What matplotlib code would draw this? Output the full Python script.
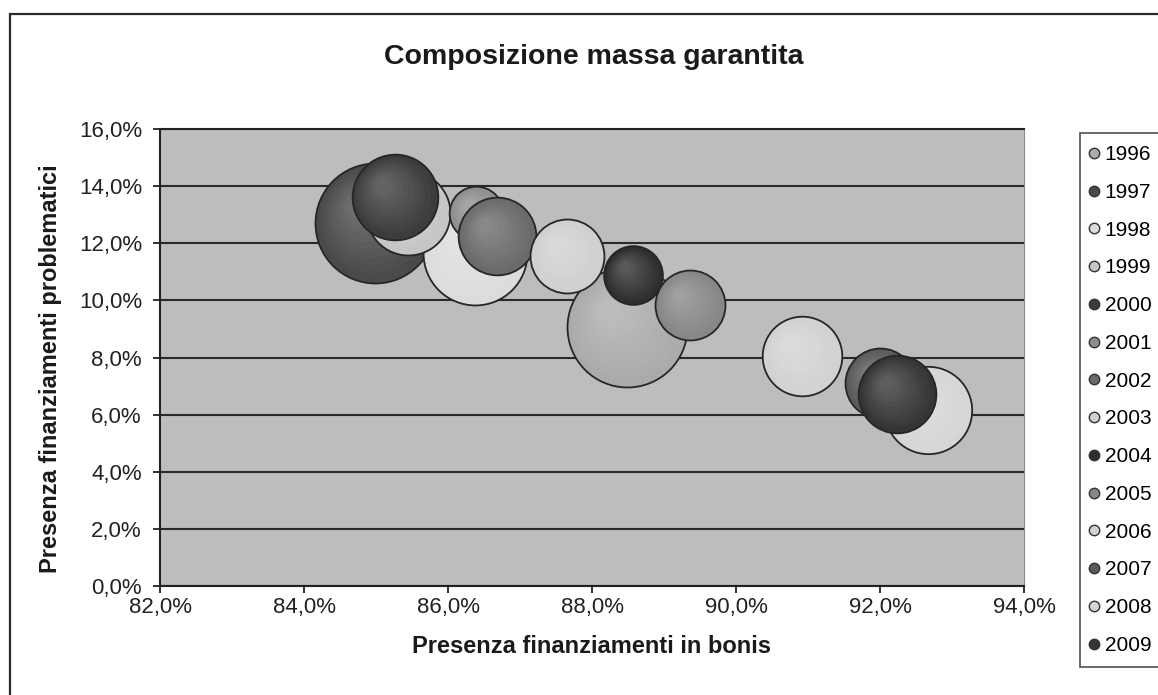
import matplotlib.pyplot as plt
import numpy as np
from matplotlib.colors import to_rgb
from matplotlib.lines import Line2D
from matplotlib.patches import Rectangle
from matplotlib.ticker import FuncFormatter, MultipleLocator
from matplotlib.transforms import ScaledTranslation

plt.rcParams["font.family"] = ["Liberation Sans", "DejaVu Sans"]

# one bubble per year: x = bonis %, y = problematici %, size = massa (relative)
years = ["1996", "1997", "1998", "1999", "2000", "2001", "2002",
         "2003", "2004", "2005", "2006", "2007", "2008", "2009"]
bonis = [88.49, 84.99, 86.37, 85.44, 85.26, 86.39, 86.68,
         87.65, 88.57, 89.36, 90.92, 92.00, 92.67, 92.24]
problematici = [9.07, 12.71, 11.66, 13.06, 13.62, 13.06, 12.25,
                11.55, 10.89, 9.84, 8.05, 7.11, 6.16, 6.72]
massa = [100, 100, 75, 49, 51, 20, 42, 38, 24, 34, 44, 34, 53, 42]
colori = ["#ababab", "#4a4a4a", "#dcdcdc", "#c6c6c6", "#3c3c3c", "#8e8e8e", "#6a6a6a",
          "#d0d0d0", "#2e2e2e", "#878787", "#d2d2d2", "#5a5a5a", "#d6d6d6", "#353535"]

SIZE_SCALE = 74.6  # points^2 per unit of massa


def pct(v, _):
    return f"{v:.1f}%".replace(".", ",")


def lighten(c, amt):
    r, g, b = to_rgb(c)
    return (r + (1 - r) * amt, g + (1 - g) * amt, b + (1 - b) * amt)


fig = plt.figure(figsize=(11.58, 6.95), dpi=100)
ax = fig.add_axes([0.1382, 0.1568, 0.7461, 0.6576])
ax.set_facecolor("#bdbdbd")

for i in range(len(years)):
    s = massa[i] * SIZE_SCALE
    r_pt = np.sqrt(s) / 2
    z = 3 + i
    ax.scatter(bonis[i], problematici[i], s=s, color=colori[i],
               edgecolors="#262626", linewidths=1.3, zorder=z)
    # soft 3d highlight toward the upper left
    for k, f in enumerate(np.linspace(0.88, 0.2, 8)):
        off = (1 - f) * r_pt * 0.35 / 72
        tr = ax.transData + ScaledTranslation(-off, off, fig.dpi_scale_trans)
        ax.scatter(bonis[i], problematici[i], s=s * f * f,
                   color=lighten(colori[i], 0.025 * (k + 1)),
                   linewidths=0, transform=tr, zorder=z)

ax.set_xlim(82, 94)
ax.set_ylim(0, 16)
ax.xaxis.set_major_locator(MultipleLocator(2))
ax.yaxis.set_major_locator(MultipleLocator(2))
ax.xaxis.set_major_formatter(FuncFormatter(pct))
ax.yaxis.set_major_formatter(FuncFormatter(pct))
ax.grid(axis="y", color="#2a2a2a", linewidth=1.5, zorder=1)
ax.set_axisbelow(True)

for side in ["left", "bottom", "top"]:
    ax.spines[side].set_color("#222222")
    ax.spines[side].set_linewidth(1.5)
ax.spines["right"].set_color("#8a8a8a")
ax.spines["right"].set_linewidth(0.8)

ax.tick_params(axis="y", direction="out", length=5, width=1.3, pad=8,
               labelsize=16, colors="#222222")
ax.tick_params(axis="x", direction="out", length=5, width=1.3, pad=3,
               labelsize=16, colors="#222222")

ax.set_xlabel("Presenza finanziamenti in bonis", fontsize=17, fontweight="bold",
              color="#1a1a1a")
ax.xaxis.set_label_coords(0.499, -0.108)
ax.set_ylabel("Presenza finanziamenti problematici", fontsize=17,
              fontweight="bold", color="#1a1a1a")
ax.yaxis.set_label_coords(-0.113, 0.475)

fig.text(0.513, 1 - 57 / 695, "Composizione massa garantita", fontsize=20.5,
         fontweight="bold", ha="center", va="center", color="#1a1a1a")

handles = [Line2D([], [], marker="o", ls="", markersize=7.5,
                  markerfacecolor=c, markeredgecolor="#333333",
                  markeredgewidth=1.0) for c in colori]
leg = fig.legend(handles, years, loc="upper left",
                 bbox_to_anchor=(1080 / 1158, 1 - 133 / 695),
                 fontsize=15, frameon=True, fancybox=False, borderaxespad=0,
                 labelspacing=0.9, handlelength=0.2, handletextpad=0.4,
                 borderpad=0.58)
leg.get_frame().set_edgecolor("#222222")
leg.get_frame().set_linewidth(1.2)

# chart area border (cut off at the right and bottom)
fig.patches.append(Rectangle((10 / 1158, -0.1), 1.2, 1.1 - 14 / 695,
                             transform=fig.transFigure, fill=False,
                             edgecolor="#2a2a2a", linewidth=1.6))

fig.savefig("out.png", dpi=100)
